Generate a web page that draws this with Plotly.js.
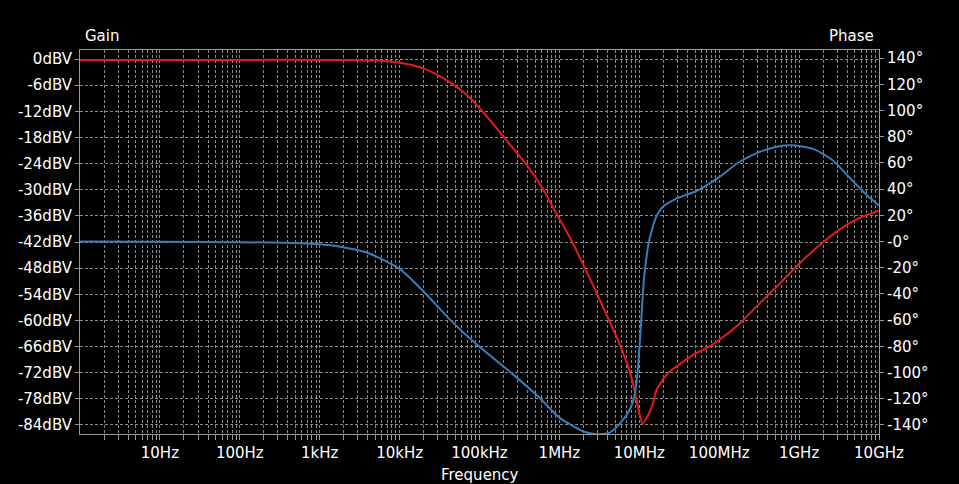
<!DOCTYPE html>
<html>
<head>
<meta charset="utf-8">
<script src="https://cdn.plot.ly/plotly-3.0.1.min.js"></script>
<style>
  html, body { margin: 0; padding: 0; background: #000; }
  #chart { width: 959px; height: 484px; }
</style>
</head>
<body>
<div id="chart"></div>
<script>
// Gain series: frequency (Hz) and gain (dBV)
const gainFreqHz = [1, 10, 100, 1e3, 3e3, 5.6e3, 1e4, 1.95e4, 3.8e4, 6.8e4, 1.2e5, 1.95e5, 3.9e5, 6.2e5, 9.4e5,
  1.4e6, 2.05e6, 3.2e6, 5.6e6, 7.5e6, 8.7e6, 1e7, 1.1e7, 1.26e7, 1.48e7, 1.62e7, 1.95e7, 2.37e7, 2.9e7,
  4.7e7, 7.5e7, 1e8, 1.78e8, 3.16e8, 5.62e8, 1e9, 1.78e9, 3.16e9, 5.62e9, 1e10];
const gainDbv = [-0.2, -0.2, -0.2, -0.2, -0.3, -0.4, -0.85, -2.1, -4.8, -8.1, -12.9, -17.6, -24.3, -29.8, -35.8,
  -41.5, -47.7, -55.3, -65.2, -71.4, -76.0, -81.3, -83.6, -82.1, -79.0, -76.2, -73.7, -71.8, -70.6,
  -67.9, -66.0, -64.5, -60.8, -56.2, -51.7, -47.0, -42.8, -39.2, -36.5, -34.8];

// Phase series: frequency (Hz) and phase (degrees)
const phaseFreqHz = [1, 10, 100, 562, 1.45e3, 3.8e3, 1e4, 2.14e4, 4.2e4, 9.1e4, 2.6e5, 5.6e5, 1e6,
  2e6, 2.9e6, 4.2e6, 5.6e6, 7.5e6, 8.7e6, 9.55e6, 1.05e7, 1.15e7, 1.33e7, 1.62e7, 1.95e7, 2.9e7, 5.4e7,
  1e8, 1.78e8, 3.16e8, 5.62e8, 7.94e8, 1.48e9, 2.63e9, 4.22e9, 6.76e9, 1e10];
const phaseDeg = [0, -0.2, -0.5, -1.3, -3.1, -8.2, -20.9, -40, -59.2, -78.3, -101.2, -119, -134.4,
  -145, -147, -146, -139.5, -129, -118, -99, -63, -27, 0.8, 18.6, 26.2, 32.7, 39,
  49.2, 60.7, 68.3, 72.7, 73.5, 70.9, 62, 49.2, 36.5, 27.5];

// Axis ticks
const freqTickVals = [10, 100, 1e3, 1e4, 1e5, 1e6, 1e7, 1e8, 1e9, 1e10];
const freqTickText = ["10Hz", "100Hz", "1kHz", "10kHz", "100kHz", "1MHz", "10MHz", "100MHz", "1GHz", "10GHz"];
const gainTickVals = [0, -6, -12, -18, -24, -30, -36, -42, -48, -54, -60, -66, -72, -78, -84];
const gainTickText = gainTickVals.map(v => (v === 0 ? "0" : "-" + Math.abs(v)) + "dBV");
const phaseTickVals = [140, 120, 100, 80, 60, 40, 20, 0, -20, -40, -60, -80, -100, -120, -140];
const phaseTickText = phaseTickVals.map(v => (v > 0 ? String(v) : "-" + Math.abs(v)) + "°");

const minorVals = [];
for (let d = 0; d < 10; d++) {
  for (let m = 2; m <= 9; m++) minorVals.push(m * Math.pow(10, d));
}

const gridCol = "#8a8a8a";
const lineCol = "#9a9a9a";

const traces = [
  { x: gainFreqHz, y: gainDbv, type: "scatter", mode: "lines", name: "Gain",
    line: { color: "#e41a1c", width: 2, shape: "spline", smoothing: 0.6 }, yaxis: "y" },
  { x: phaseFreqHz, y: phaseDeg, type: "scatter", mode: "lines", name: "Phase",
    line: { color: "#377eb8", width: 2, shape: "spline", smoothing: 0.6 }, yaxis: "y2" }
];

const layout = {
  width: 959, height: 484,
  paper_bgcolor: "#000", plot_bgcolor: "#000",
  font: { family: "DejaVu Sans", size: 15, color: "#fff" },
  margin: { l: 80, r: 80, t: 50, b: 50 },
  showlegend: false,
  xaxis: {
    type: "log", range: [0, 10],
    tickmode: "array", tickvals: freqTickVals, ticktext: freqTickText,
    ticks: "outside", ticklen: 5, tickcolor: lineCol, tickwidth: 1,
    showgrid: true, gridcolor: gridCol, griddash: "3px,2px", gridwidth: 1,
    showline: true, linecolor: lineCol, linewidth: 1, mirror: true,
    zeroline: false,
    minor: { tickmode: "array", tickvals: minorVals, ticks: "outside", ticklen: 5,
             tickcolor: lineCol, showgrid: true, gridcolor: gridCol, griddash: "3px,2px", gridwidth: 1 }
  },
  yaxis: {
    range: [-86.07, 2.07],
    tickmode: "array", tickvals: gainTickVals, ticktext: gainTickText,
    ticks: "outside", ticklen: 4, tickcolor: lineCol,
    showgrid: true, gridcolor: gridCol, griddash: "3px,2px", gridwidth: 1,
    showline: true, linecolor: lineCol, linewidth: 1, mirror: true,
    zeroline: false
  },
  yaxis2: {
    overlaying: "y", side: "right",
    range: [-146.9, 146.2],
    tickmode: "array", tickvals: phaseTickVals, ticktext: phaseTickText,
    ticks: "outside", ticklen: 4, tickcolor: lineCol,
    showgrid: false, zeroline: false,
    showline: true, linecolor: lineCol, linewidth: 1
  },
  annotations: [
    { text: "Gain", xref: "paper", yref: "paper", x: 0, y: 1, xanchor: "left", yanchor: "middle",
      xshift: 3, yshift: 14, showarrow: false, font: { size: 15, color: "#fff" } },
    { text: "Phase", xref: "paper", yref: "paper", x: 1, y: 1, xanchor: "right", yanchor: "middle",
      xshift: -3, yshift: 14, showarrow: false, font: { size: 15, color: "#fff" } },
    { text: "Frequency", xref: "paper", yref: "paper", x: 0.5, y: 0, xanchor: "center", yanchor: "middle",
      yshift: -41, showarrow: false, font: { size: 15, color: "#fff" } }
  ]
};

Plotly.newPlot("chart", traces, layout, { staticPlot: true, displayModeBar: false });
</script>
</body>
</html>
